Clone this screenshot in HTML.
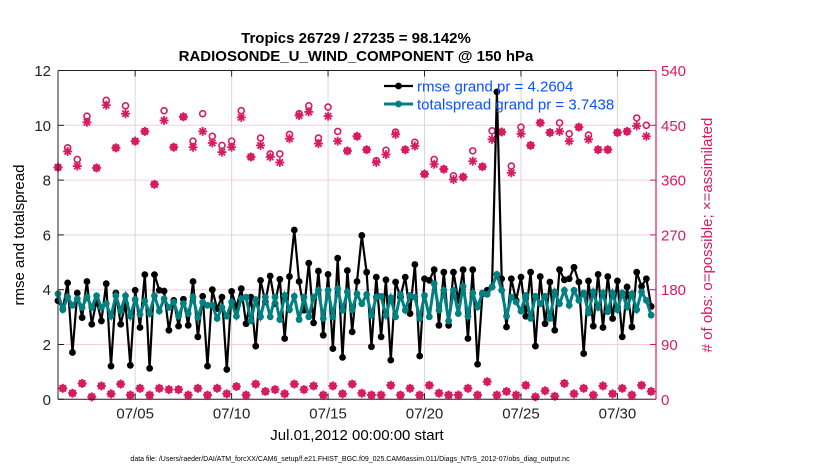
<!DOCTYPE html>
<html><head><meta charset="utf-8">
<style>
html,body{margin:0;padding:0;background:#fff;}
svg{display:block;font-family:"Liberation Sans",sans-serif;}
</style></head>
<body>
<svg id="chart" width="830" height="470" viewBox="0 0 830 470" xmlns="http://www.w3.org/2000/svg">
<text x="356" y="43" text-anchor="middle" font-size="15" font-weight="bold">Tropics 26729 / 27235 = 98.142%</text>
<text x="356" y="61" text-anchor="middle" font-size="15" font-weight="bold">RADIOSONDE_U_WIND_COMPONENT @ 150 hPa</text>
<g id="grid"></g>
<g id="marks"></g>
<g id="axes"></g>
<text transform="translate(24,235) rotate(-90)" text-anchor="middle" font-size="15">rmse and totalspread</text>
<text transform="translate(712,235) rotate(-90)" text-anchor="middle" font-size="15" fill="#d81b60"># of obs: o=possible; ×=assimilated</text>
<text x="357" y="440" text-anchor="middle" font-size="15">Jul.01,2012 00:00:00 start</text>
<text x="350" y="461" text-anchor="middle" font-size="7">data file: /Users/raeder/DAI/ATM_forcXX/CAM6_setup/f.e21.FHIST_BGC.f09_025.CAM6assim.011/Diags_NTrS_2012-07/obs_diag_output.nc</text>
<g id="legend"></g>
</svg>
<script>
const rmse=[3.6,3.3,4.25,1.71,3.88,2.98,4.30,2.74,3.61,2.86,4.22,1.21,3.88,2.74,3.49,1.24,3.98,2.62,4.55,1.13,4.55,3.98,3.95,2.52,3.61,2.67,3.65,2.70,4.30,2.28,3.76,1.21,
4.0,3.31,3.73,1.09,3.94,3.37,4.04,2.76,3.73,1.94,4.34,3.55,4.50,3.49,4.38,2.22,4.48,6.18,4.30,3.25,4.97,2.79,4.68,2.34,4.56,1.85,5.15,1.53,4.70,2.46,4.30,
5.98,4.64,1.92,4.46,2.28,4.36,1.43,4.28,3.73,4.46,3.13,4.92,1.58,4.40,4.34,4.73,2.70,4.64,2.70,4.64,3.61,4.73,2.22,4.73,1.28,3.85,3.98,4.10,11.22,4.40,2.64,
4.40,3.61,4.46,3.03,4.64,1.94,4.48,2.76,4.28,2.52,4.73,4.36,4.40,4.82,4.28,1.67,4.32,2.67,4.56,2.62,4.48,2.95,4.32,2.28,4.10,2.64,4.64,4.12,4.40,3.39];
const spread=[3.85,3.27,3.73,3.43,3.67,3.35,3.73,3.35,3.78,3.35,3.49,3.03,3.78,3.22,3.78,3.03,3.64,3.10,3.59,3.13,3.78,3.22,3.67,3.35,3.55,3.03,3.49,3.13,3.73,2.98,3.54,3.43,
3.43,2.95,3.35,3.03,3.55,3.03,3.67,3.73,2.86,3.64,3.01,3.73,3.01,3.73,2.91,3.79,3.27,3.76,2.91,3.73,3.01,3.73,3.98,2.95,3.98,3.01,4.04,3.25,3.92,3.27,3.85,
3.49,3.83,3.07,3.73,3.76,3.07,3.71,3.01,3.83,3.25,3.79,3.73,2.95,3.79,3.01,4.22,3.25,3.98,2.86,3.98,3.13,4.12,3.03,3.88,3.37,3.88,3.83,4.10,4.56,3.98,3.03,
3.73,3.55,3.22,3.79,2.95,3.76,3.49,3.76,2.95,3.92,3.49,3.98,3.43,3.98,3.61,3.88,3.15,3.92,3.35,3.88,3.19,3.88,3.27,3.88,3.37,3.85,3.27,3.92,3.61,3.07];
// obs counts at 00Z/12Z (even times) and 06Z/18Z (odd times)
const assimMain=[381,407,383,455,380,483,413,469,424,440,353,458,414,464,414,440,
421,406,414,463,398,417,398,389,428,466,472,420,465,424,408,432,
410,389,402,435,410,416,370,386,378,361,365,391,382,427,439,
372,436,417,454,438,440,424,447,427,410,410,438,440,449,432];
const possMain=[381,413,394,465,380,491,413,482,424,440,353,474,414,464,424,469,
432,417,424,474,398,429,403,403,435,469,482,429,480,440,408,432,
410,392,409,439,410,422,370,394,378,367,365,408,382,441,439,
383,447,417,454,438,454,436,447,434,410,410,438,440,462,450];
const assimOff=[18,10,26,4,22,9,25,7,18,7,18,16,16,7,18,7,
18,9,21,7,25,13,16,9,25,16,22,7,22,9,25,
10,7,7,23,7,18,7,23,10,7,7,18,7,29,7,13,
7,23,4,14,5,26,9,18,7,22,9,18,7,23,13];
const possOff=assimOff.slice();
const xTickDays=[4,9,14,19,24,29];
const xTickLabels=["07/05","07/10","07/15","07/20","07/25","07/30"];
const yTicks=[0,2,4,6,8,10,12];
const y2Ticks=[0,90,180,270,360,450,540];
const legendLabels=["rmse grand pr = 4.2604","totalspread grand pr = 3.7438"];

const NS="http://www.w3.org/2000/svg";
const L=58,R=656,T=70.5,B=399.3;
const X=d=>L+(d-0)/(31-0)*(R-L);
const Y=v=>B-v/12*(B-T);
const Y2=v=>B-v/540*(B-T);
const PINK="#d81b60",TEAL="#008080";
function mk(parent,tag,attrs){const e=document.createElementNS(NS,tag);for(const k in attrs)e.setAttribute(k,attrs[k]);parent.appendChild(e);return e;}
const grid=document.getElementById('grid'),marks=document.getElementById('marks'),axes=document.getElementById('axes'),leg=document.getElementById('legend');

mk(grid,'rect',{x:L,y:T,width:R-L,height:B-T,fill:'#fff'});
y2Ticks.forEach(t=>{const g=mk(grid,'line',{x1:L,x2:R,y1:Y2(t),y2:Y2(t),stroke:'#f3cfdc','stroke-width':1});

});
xTickDays.forEach(d=>{const g=mk(grid,'line',{x1:X(d),x2:X(d),y1:T,y2:B,stroke:'#d8d8d8','stroke-width':1});

});

const N=rmse.length;
const tday=i=>i*0.25;
function star(x,y,name){const g=mk(marks,'g',{stroke:PINK,'stroke-width':1.8});


for(let a=0;a<4;a++){const an=a*Math.PI/4;const dx=4.5*Math.cos(an),dy=4.5*Math.sin(an);mk(g,'line',{x1:x-dx,y1:y-dy,x2:x+dx,y2:y+dy});}
mk(g,'circle',{cx:x,cy:y,r:2.2,fill:PINK,stroke:'none'});}
for(let k=0;k<assimMain.length;k++){
  const i=2*k, x=X(tday(i));
  const c=mk(marks,'circle',{cx:x,cy:Y2(possMain[k]),r:3,fill:'none',stroke:PINK,'stroke-width':1.6});
  
  
  star(x,Y2(assimMain[k]),'obs-assimilated-marker');
}
for(let k=0;k<assimOff.length;k++){
  const i=2*k+1, x=X(tday(i));
  const c=mk(marks,'circle',{cx:x,cy:Y2(possOff[k]),r:3,fill:'none',stroke:PINK,'stroke-width':1.6});
  
  
  star(x,Y2(assimOff[k]),'obs-assimilated-marker');
}
let p='';rmse.forEach((v,i)=>{p+=(i?'L':'M')+X(tday(i)).toFixed(1)+','+Y(v).toFixed(1);});
const rl=mk(marks,'path',{d:p,fill:'none',stroke:'#000','stroke-width':2.2});


rmse.forEach((v,i)=>{const c=mk(marks,'circle',{cx:X(tday(i)),cy:Y(v),r:3.4,fill:'#000'});

});
p='';spread.forEach((v,i)=>{p+=(i?'L':'M')+X(tday(i)).toFixed(1)+','+Y(v).toFixed(1);});
const sl=mk(marks,'path',{d:p,fill:'none',stroke:TEAL,'stroke-width':3});


spread.forEach((v,i)=>{const c=mk(marks,'circle',{cx:X(tday(i)),cy:Y(v),r:3.4,fill:TEAL});

});

mk(axes,'line',{x1:L,x2:R,y1:T,y2:T,stroke:'#222','stroke-width':1});
mk(axes,'line',{x1:L,x2:R,y1:B,y2:B,stroke:'#222','stroke-width':1});
mk(axes,'line',{x1:L,x2:L,y1:T,y2:B,stroke:'#222','stroke-width':1});
mk(axes,'line',{x1:R,x2:R,y1:T,y2:B,stroke:PINK,'stroke-width':1.2});
yTicks.forEach(t=>{mk(axes,'line',{x1:L,x2:L+6,y1:Y(t),y2:Y(t),stroke:'#222'});
const tx=mk(axes,'text',{x:L-7,y:Y(t)+5.5,'text-anchor':'end','font-size':15,fill:'#222'});tx.textContent=t;

});
y2Ticks.forEach(t=>{mk(axes,'line',{x1:R-6,x2:R,y1:Y2(t),y2:Y2(t),stroke:PINK});
const tx=mk(axes,'text',{x:R+5,y:Y2(t)+5.5,'font-size':15,fill:PINK});tx.textContent=t;

});
xTickDays.forEach((d,i)=>{mk(axes,'line',{x1:X(d),x2:X(d),y1:B,y2:B-6,stroke:'#222'});mk(axes,'line',{x1:X(d),x2:X(d),y1:T,y2:T+6,stroke:'#222'});
const tx=mk(axes,'text',{x:X(d),y:B+19,'text-anchor':'middle','font-size':15,fill:'#222'});tx.textContent=xTickLabels[i];

});

[[ '#000',86],[TEAL,104]].forEach((s,k)=>{
  const g=mk(leg,'g',{});
  
  
  mk(g,'line',{x1:384,x2:413,y1:s[1],y2:s[1],stroke:s[0],'stroke-width':k?3:2.2});
  mk(g,'circle',{cx:398.5,cy:s[1],r:3.4,fill:s[0]});
  const tx=mk(g,'text',{x:417,y:s[1]+5.5,'font-size':15,fill:'#0a50ff'});tx.textContent=legendLabels[k];
});
</script>
</body></html>
